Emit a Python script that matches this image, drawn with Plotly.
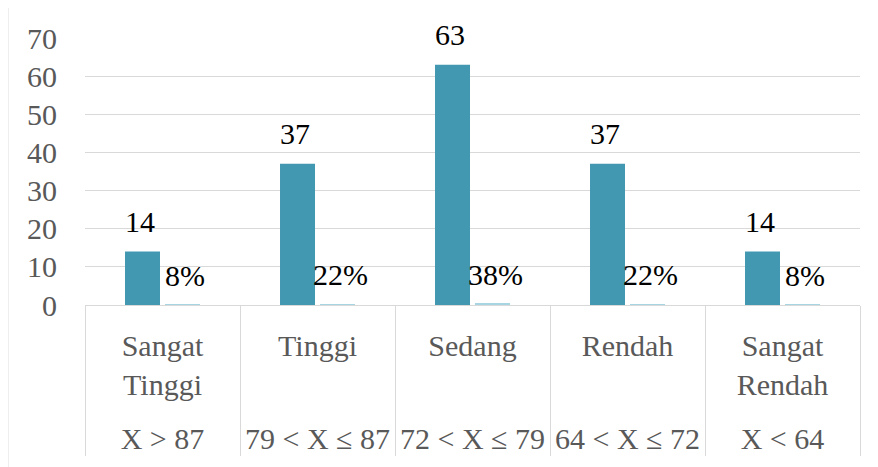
import plotly.graph_objects as go

categories = ["Sangat<br>Tinggi", "Tinggi", "Sedang", "Rendah", "Sangat<br>Rendah"]
ranges = ["X > 87", "79 < X ≤ 87", "72 < X ≤ 79", "64 < X ≤ 72", "X < 64"]
counts = [14, 37, 63, 37, 14]
percents = [0.08, 0.22, 0.38, 0.22, 0.08]
percent_labels = ["8%", "22%", "38%", "22%", "8%"]
y_ticks = [0, 10, 20, 30, 40, 50, 60, 70]

FONT = "Liberation Serif"
GREY = "#595959"

# outer level shown one line lower, as in the reference
ranges_display = ["<br>" + r for r in ranges]

fig = go.Figure()
fig.add_trace(go.Bar(
    x=[ranges_display, categories], y=counts,
    marker=dict(color="#4398B1", line=dict(width=0)),
    name="Jumlah",
))
fig.add_trace(go.Bar(
    x=[ranges_display, categories], y=percents,
    marker=dict(color="#A8D5E2", line=dict(width=0)),
    name="Persentase",
))

# data labels (anchored at data positions; offset to the grouped bar)
for i, (c, p, pl) in enumerate(zip(counts, percents, percent_labels)):
    fig.add_annotation(x=i, y=c, xref="x", yref="y", text=str(c),
                       showarrow=False, xshift=-22.5, yshift=30.5, yanchor="middle",
                       font=dict(family=FONT, size=30, color="black"))
    fig.add_annotation(x=i, y=p, xref="x", yref="y", text=pl,
                       showarrow=False, xshift=22.5, yshift=29.5, yanchor="middle",
                       font=dict(family=FONT, size=30, color="black"))

fig.update_layout(
    width=870, height=459,
    margin=dict(l=77, r=18, t=30, b=162, autoexpand=False),
    paper_bgcolor="white", plot_bgcolor="white",
    showlegend=False,
    barmode="group", bargap=0.484, bargroupgap=0.125,
    font=dict(family=FONT, size=30, color=GREY),
)
fig.update_yaxes(
    range=[0, 70], tickvals=y_ticks, automargin=False,
    showgrid=True, gridcolor="#d9d9d9", gridwidth=1,
    zeroline=True, zerolinecolor="#d9d9d9", zerolinewidth=1,
    showline=False, ticks="", ticklabelstandoff=27,
    tickfont=dict(family=FONT, size=30, color=GREY),
)
fig.update_xaxes(
    type="multicategory", automargin=False,
    showgrid=False, showline=False, ticks="",
    ticklabelstandoff=20,
    showdividers=True, dividercolor="#d9d9d9", dividerwidth=1,
    tickfont=dict(family=FONT, size=30, color=GREY),
)
# light chart border
fig.add_shape(type="rect", xref="paper", yref="paper",
              x0=-0.0994, x1=1.1, y0=-1, y1=1.116,
              line=dict(color="#d9d9d9", width=1), fillcolor="rgba(0,0,0,0)", layer="below")

fig.write_html("out.html")
